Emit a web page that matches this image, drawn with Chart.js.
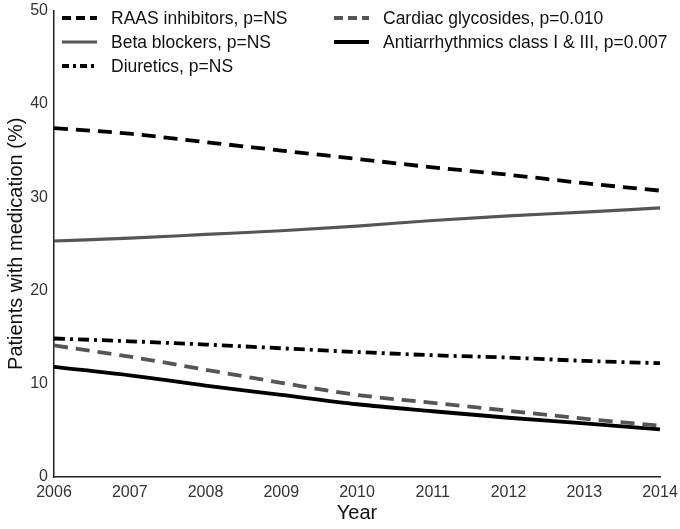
<!DOCTYPE html>
<html>
<head>
<meta charset="utf-8">
<script src="https://cdn.jsdelivr.net/npm/chart.js@4/dist/chart.umd.min.js"></script>
<style>
html,body{margin:0;padding:0;background:#fff;}
#wrap{width:680px;height:529px;position:relative;}
</style>
</head>
<body>
<div id="wrap"><canvas id="c" width="680" height="529"></canvas></div>
<script>
const years = ["2006","2007","2008","2009","2010","2011","2012","2013","2014"];
const raas = [37.4, 36.8, 35.9, 35.0, 34.1, 33.2, 32.4, 31.5, 30.7];
const beta = [25.3, 25.6, 26.0, 26.4, 26.9, 27.5, 28.0, 28.4, 28.85];
const diuretics = [14.85, 14.55, 14.2, 13.8, 13.4, 13.05, 12.8, 12.45, 12.2];
const cardiac = [14.1, 12.9, 11.5, 10.1, 8.8, 7.95, 7.1, 6.25, 5.5];
const antiarr = [11.8, 10.9, 9.8, 8.8, 7.8, 7.05, 6.35, 5.75, 5.1];
const seriesNames = ["RAAS inhibitors, p=NS","Beta blockers, p=NS","Diuretics, p=NS","Cardiac glycosides, p=0.010","Antiarrhythmics class I & III, p=0.007"];
const yTicks = [0,10,20,30,40,50];

const FONT = "'Liberation Sans', Arial, sans-serif";

const styles = [
  {color:'#000000', width:3.8, dash:[14,8]},
  {color:'#555555', width:3.2, dash:[]},
  {color:'#000000', width:3.8, dash:[11,5,3,5]},
  {color:'#555555', width:3.8, dash:[14,8]},
  {color:'#000000', width:3.8, dash:[]}
];
const dataArr = [raas, beta, diuretics, cardiac, antiarr];

const datasets = dataArr.map((d,i)=>({
  label: seriesNames[i],
  data: d,
  borderColor: styles[i].color,
  backgroundColor: styles[i].color,
  borderWidth: styles[i].width,
  borderDash: styles[i].dash,
  pointRadius: 0,
  pointHoverRadius: 0,
  fill: false,
  cubicInterpolationMode: 'monotone',
  borderCapStyle: 'butt'
}));

const legendPlugin = {
  id: 'customLegend',
  afterDraw(chart){
    const ctx = chart.ctx;
    const layout = [
      {i:0, x:62, y:18},
      {i:1, x:62, y:42},
      {i:2, x:62, y:66},
      {i:3, x:334, y:18},
      {i:4, x:334, y:42}
    ];
    ctx.save();
    ctx.font = "17.5px " + FONT;
    ctx.textBaseline = 'middle';
    ctx.fillStyle = '#111';
    layout.forEach(it=>{
      const ds = chart.data.datasets[it.i];
      ctx.beginPath();
      ctx.strokeStyle = ds.borderColor;
      ctx.lineWidth = ds.borderWidth;
      ctx.setLineDash(ds.borderDash.length ? (it.i===2 ? [7,4,3,4] : [9,5]) : []);
      ctx.moveTo(it.x, it.y);
      ctx.lineTo(it.x+35, it.y);
      ctx.stroke();
      ctx.setLineDash([]);
      ctx.fillText(ds.label, it.x+49, it.y+1);
    });
    ctx.restore();
  }
};

new Chart(document.getElementById('c'), {
  type: 'line',
  data: { labels: years, datasets },
  options: {
    responsive: false,
    animation: false,
    devicePixelRatio: 1,
    layout: { padding: { top: 9, right: 20, left: 0, bottom: 0 } },
    plugins: { legend: { display: false }, tooltip: { enabled: false } },
    scales: {
      x: {
        type: 'category',
        offset: false,
        grid: { display: false, drawTicks: true, tickLength: 5, tickColor:'#222' },
        border: { display: true, color: '#222', width: 1.5 },
        ticks: { color: '#333', font: { family: FONT, size: 16 }, padding: 1, maxRotation: 0, autoSkip: false },
        title: { display: true, text: 'Year', color: '#111', font: { family: FONT, size: 20 }, padding: { top: 8 } },
        afterFit(s){ s.height = 52; }
      },
      y: {
        min: 0, max: 50,
        afterBuildTicks(s){ s.ticks = yTicks.map(v=>({value:v})); },
        grid: { display: false, drawTicks: true, tickLength: 5, tickColor:'#222' },
        border: { display: true, color: '#222', width: 1.5 },
        ticks: { color: '#333', font: { family: FONT, size: 16 }, padding: 1 },
        title: { display: true, text: 'Patients with medication (%)', color: '#111', font: { family: FONT, size: 20 }, padding: { bottom: 0 } },
        afterFit(s){ s.width = 54; }
      }
    }
  },
  plugins: [legendPlugin]
});
</script>
</body>
</html>
